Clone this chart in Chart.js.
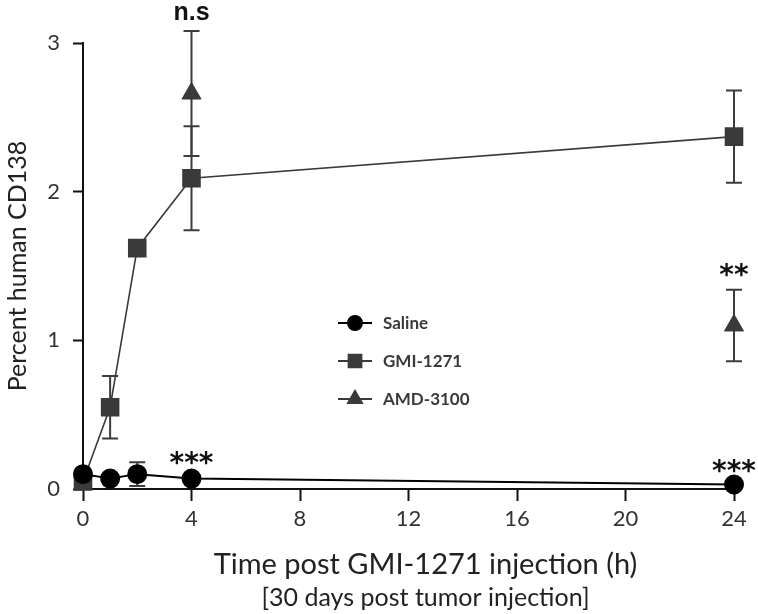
<!DOCTYPE html>
<html lang="en">
<head>
    <meta charset="UTF-8" />
    <title>Percent human CD138</title>
    <script src="https://cdn.jsdelivr.net/npm/chart.js@4.4.1/dist/chart.umd.min.js"></script>
    <style>
        body { margin: 0; background: #fff; }
        #wrap { width: 758px; height: 614px; }
    </style>
</head>
<body>
    <div id="wrap"><canvas id="chart" width="758" height="614"></canvas></div>

    <script>
        // values (mean and SEM)
        const hours = [0, 1, 2, 4, 24];
        const salineMean = [0.10, 0.07, 0.10, 0.07, 0.03];
        const salineSem = [0.02, 0.02, 0.08, 0.02, 0.02];
        const gmiMean = [0.05, 0.55, 1.62, 2.09, 2.37];
        const gmiSem = [0.03, 0.21, 0.04, 0.35, 0.31];
        const amdHours = [4, 24];
        const amdMean = [2.66, 1.10];
        const amdSem = [0.42, 0.24];

        const xTicks = [0, 4, 8, 12, 16, 20, 24];
        const yTicks = [0, 1, 2, 3];

        // significance marks (centre of the text, in data units)
        const sigX = [4, 4, 24, 24];
        const sigY = [3.2, 0.215, 1.48, 0.16];
        const sigText = ['n.s', '***', '**', '***'];

        const xTitle = 'Time post GMI-1271 injection (h)';
        const xSubtitle = '[30 days post tumor injection]';

        const font = 'Lato, "Open Sans", sans-serif';

        function points(xs, ys) {
            return xs.map((x, i) => ({ x: x, y: ys[i] }));
        }

        const errorBars = {
            id: 'errorBars',
            beforeDatasetsDraw(chart) {
                const ctx = chart.ctx;
                const xs = chart.scales.x, ys = chart.scales.y;
                ctx.save();
                ctx.strokeStyle = '#3c3c3c';
                ctx.lineWidth = 2;
                chart.data.datasets.forEach(ds => {
                    ds.data.forEach((p, i) => {
                        const e = ds.sem[i];
                        const px = xs.getPixelForValue(p.x);
                        const top = ys.getPixelForValue(p.y + e);
                        const bot = ys.getPixelForValue(p.y - e);
                        ctx.beginPath();
                        ctx.moveTo(px, top); ctx.lineTo(px, bot);
                        ctx.moveTo(px - 8, top); ctx.lineTo(px + 8, top);
                        ctx.moveTo(px - 8, bot); ctx.lineTo(px + 8, bot);
                        ctx.stroke();
                    });
                });
                ctx.restore();
            },
            afterDraw(chart) {
                const ctx = chart.ctx;
                const xs = chart.scales.x, ys = chart.scales.y;
                const area = chart.chartArea;
                ctx.save();
                // significance labels
                ctx.fillStyle = '#111';
                ctx.textAlign = 'center';
                ctx.textBaseline = 'alphabetic';
                sigText.forEach((t, i) => {
                    const px = xs.getPixelForValue(sigX[i]);
                    const py = ys.getPixelForValue(sigY[i]);
                    if (t === 'n.s') {
                        ctx.font = 'bold 25px "Liberation Sans", Arial, sans-serif';
                        ctx.fillText(t, px, py + 6.5);
                    } else {
                        ctx.font = 'bold 28px "DejaVu Sans", sans-serif';
                        ctx.fillText(t, px, py + 15);
                    }
                });

                // x title and subtitle (set a little right of the plot centre, as in the figure)
                const cx = (area.left + area.right) / 2 + 17;
                ctx.textBaseline = 'middle';
                ctx.fillStyle = '#222';
                ctx.font = '29px ' + font;
                ctx.fillText(xTitle, cx, 565);
                ctx.font = '25px ' + font;
                ctx.fillText(xSubtitle, cx, 598);

                // legend inside the plot
                const lx = area.left + 272, ly = area.top + 280, gap = 38;
                ctx.textAlign = 'left';
                ctx.font = 'bold 17px ' + font;
                chart.data.datasets.forEach((ds, i) => {
                    const y = ly + i * gap;
                    ctx.strokeStyle = ds.borderColor;
                    ctx.lineWidth = 2;
                    ctx.beginPath();
                    ctx.moveTo(lx - 17, y); ctx.lineTo(lx + 17, y);
                    ctx.stroke();
                    Chart.helpers.drawPoint(ctx, {
                        pointStyle: ds.pointStyle,
                        radius: ds.legendRadius,
                        borderWidth: 1
                    }, lx, y);
                    ctx.fillStyle = ds.pointBackgroundColor;
                    ctx.fill();
                    ctx.fillStyle = '#3a3a3a';
                    ctx.fillText(ds.label, lx + 28, y + 1);
                });
                ctx.restore();
            }
        };

        const ctx = document.getElementById('chart').getContext('2d');
        const myChart = new Chart(ctx, {
            type: 'line',
            data: {
                datasets: [{
                    label: 'Saline',
                    data: points(hours, salineMean),
                    sem: salineSem,
                    borderColor: '#000',
                    borderWidth: 2,
                    pointStyle: 'circle',
                    pointRadius: 9,
                    legendRadius: 7,
                    pointBackgroundColor: '#000',
                    pointBorderColor: '#000',
                    clip: false
                }, {
                    label: 'GMI-1271',
                    data: points(hours, gmiMean),
                    sem: gmiSem,
                    borderColor: '#3a3a3a',
                    borderWidth: 1.6,
                    pointStyle: 'rect',
                    pointRadius: 12,
                    legendRadius: 9,
                    pointBackgroundColor: '#3a3a3a',
                    pointBorderColor: '#3a3a3a',
                    clip: false
                }, {
                    label: 'AMD-3100',
                    data: points(amdHours, amdMean),
                    sem: amdSem,
                    borderColor: '#3a3a3a',
                    showLine: false,
                    pointStyle: 'triangle',
                    pointRadius: 11,
                    legendRadius: 8,
                    pointBackgroundColor: '#3a3a3a',
                    pointBorderColor: '#3a3a3a',
                    clip: false
                }]
            },
            options: {
                responsive: false,
                animation: false,
                layout: { padding: { top: 43, right: 24, left: 0, bottom: 0 } },
                plugins: { legend: { display: false }, tooltip: { enabled: false } },
                scales: {
                    x: {
                        type: 'linear',
                        min: 0,
                        max: 24,
                        afterFit: s => { s.height = 125; },
                        afterBuildTicks: s => { s.ticks = xTicks.map(v => ({ value: v })); },
                        border: { display: true, color: '#111', width: 2 },
                        grid: { drawOnChartArea: false, drawTicks: true, tickLength: 12, tickWidth: 2, tickColor: '#111', color: '#111' },
                        ticks: { color: '#333', padding: 5, maxRotation: 0, font: { family: font, size: 22 } }
                    },
                    y: {
                        min: 0,
                        max: 3,
                        afterFit: s => { s.width = 83; },
                        afterBuildTicks: s => { s.ticks = yTicks.map(v => ({ value: v })); },
                        border: { display: true, color: '#111', width: 2 },
                        grid: { drawOnChartArea: false, drawTicks: true, tickLength: 10, tickWidth: 2, tickColor: '#111', color: '#111' },
                        ticks: { color: '#333', padding: 13, font: { family: font, size: 22 } },
                        title: {
                            display: true,
                            text: 'Percent human CD138',
                            color: '#222',
                            font: { family: font, size: 25 },
                            padding: { top: 3, bottom: 0 }
                        }
                    }
                }
            },
            plugins: [errorBars]
        });
    </script>
</body>
</html>
